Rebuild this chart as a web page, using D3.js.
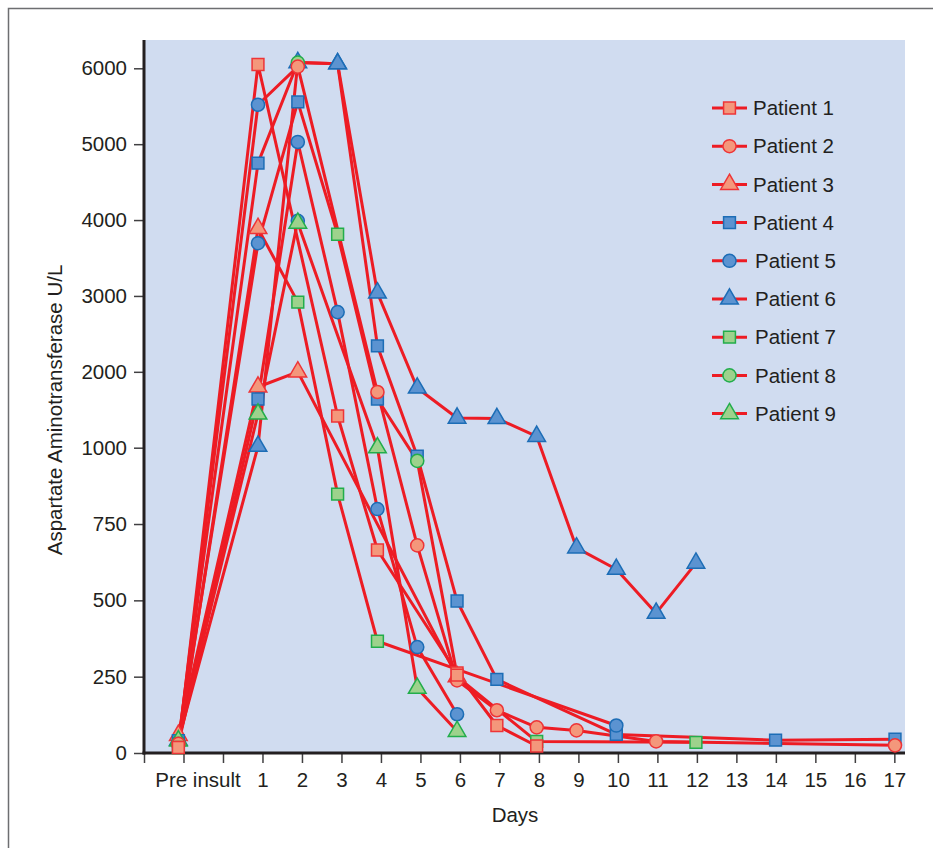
<!DOCTYPE html>
<html lang="en">
<head>
<meta charset="utf-8">
<title>Aspartate Aminotransferase after insult</title>
<script src="https://d3js.org/d3.v7.min.js"></script>
<style>
  body { margin: 0; background: #fff; }
  text { font-family: "Liberation Sans", Arial, sans-serif; fill: #231f20; }
</style>
</head>
<body>
<svg id="chart"></svg>
<script>
    // days: -1 stands for "Pre insult"
    const dayTicks = d3.range(-2, 18);
    const dayLabels = {"-2": "", "-1": "Pre insult", "0": ""};
    const astTicks = [0, 250, 500, 750, 1000, 2000, 3000, 4000, 5000, 6000];
    const patients = ["Patient 1", "Patient 2", "Patient 3", "Patient 4", "Patient 5",
                      "Patient 6", "Patient 7", "Patient 8", "Patient 9"];

    // each trace: [day, AST U/L, marker of patient n]
    const trace1 = [[-1, 18, 1], [1, 6050, 1], [3, 1418, 1], [4, 665, 1], [6, 262, 1], [7, 90, 1], [8, 23, 1]];
    const trace2 = [[-1, 30, 2], [1, 5520, 5], [2, 6022, 2], [4, 1734, 2], [5, 680, 2], [6, 238, 2],
                    [7, 140, 2], [8, 84, 2], [9, 74, 2], [11, 38, 2], [17, 25, 2]];
    const trace3 = [[-1, 58, 3], [1, 1800, 3], [2, 2000, 3], [6, 250, 3], [8, 38, 7], [12, 35, 7]];
    const trace4 = [[-1, 40, 4], [1, 4750, 4], [2, 6075, 8], [3, 6060, 6], [4, 2341, 4], [5, 972, 4],
                    [6, 498, 4], [7, 241, 4], [10, 61, 4], [14, 42, 4], [17, 45, 4]];
    const trace5 = [[-1, 35, 5], [1, 3695, 5], [2, 5557, 4], [3, 3813, 7], [4, 1642, 4], [5, 957, 8], [6, 255, 1]];
    const trace6 = [[-1, 42, 6], [1, 1019, 6], [2, 6075, 6], [3, 6060, 6], [4, 3040, 6], [5, 1787, 6],
                    [6, 1391, 6], [7, 1385, 6], [8, 1150, 6], [9, 672, 6], [10, 602, 6], [11, 458, 6], [12, 622, 6]];
    const trace7 = [[-1, 18, 7], [1, 3890, 3], [2, 2918, 7], [3, 848, 7], [4, 366, 7], [10, 90, 5]];
    const trace8 = [[-1, 30, 8], [1, 1642, 4], [2, 5029, 5], [3, 2787, 5], [4, 799, 5], [5, 347, 5], [6, 127, 5]];
    const trace9 = [[-1, 40, 9], [1, 1444, 9], [2, 3990, 5], [2, 3960, 9], [4, 1000, 9], [5, 212, 9], [6, 71, 9]];
    const traces = [trace1, trace2, trace3, trace4, trace5, trace6, trace7, trace8, trace9];

    const width = 933, height = 848;
    const plot = {left: 144, top: 40, right: 905, bottom: 753};

    const svg = d3.select("#chart").attr("width", width).attr("height", height);

    // outer frame
    svg.append("rect").attr("x", 8.5).attr("y", 8.5).attr("width", 940).attr("height", 860)
        .attr("fill", "none").attr("stroke", "#6d6e71").attr("stroke-width", 1.5);

    // axis scale, and the slightly narrower scale the points were plotted on
    let x = d3.scaleLinear().domain([-2, 17.27]).range([plot.left, plot.right]);
    let xPts = d3.scaleLinear().domain([1, 17]).range([258, 895]);
    let y = d3.scaleLinear().domain([0, 1000, 6000, 6370]).range([plot.bottom, 447.7, 68.3, plot.top]);

    svg.append("rect").attr("x", plot.left).attr("y", plot.top)
        .attr("width", plot.right - plot.left).attr("height", plot.bottom - plot.top)
        .attr("fill", "#d0dcf0");

    // axes
    let yAxis = svg.append("g").attr("transform", `translate(${plot.left},0)`)
        .call(d3.axisLeft(y).tickValues(astTicks).tickSize(10).tickSizeOuter(0).tickPadding(7).tickFormat(d3.format("d")));
    let xAxis = svg.append("g").attr("transform", `translate(0,${plot.bottom})`)
        .call(d3.axisBottom(x).tickValues(dayTicks).tickSize(10).tickSizeOuter(0).tickPadding(9)
            .tickFormat(d => dayLabels[d] !== undefined ? dayLabels[d] : d));
    [yAxis, xAxis].forEach(a => {
        a.select(".domain").remove();
        a.selectAll(".tick line").attr("stroke", "#414042").attr("stroke-width", 1.5);
        a.selectAll(".tick text").attr("font-size", "20.5px").attr("fill", "#231f20");
    });
    xAxis.selectAll(".tick text").filter(d => d === -1).attr("dx", 14);

    svg.append("line").attr("x1", plot.left).attr("x2", plot.left).attr("y1", plot.top).attr("y2", plot.bottom + 1.5)
        .attr("stroke", "#231f20").attr("stroke-width", 3);
    svg.append("line").attr("x1", plot.left - 1.5).attr("x2", plot.right).attr("y1", plot.bottom).attr("y2", plot.bottom)
        .attr("stroke", "#231f20").attr("stroke-width", 3);

    svg.append("text").attr("x", 515).attr("y", 822).attr("text-anchor", "middle")
        .attr("font-size", "20.5px").text("Days");
    svg.append("text").attr("transform", "translate(62,410) rotate(-90)").attr("text-anchor", "middle")
        .attr("font-size", "20.5px").text("Aspartate Aminotransferase U/L");

    // marker styles per patient
    const shapes = [d3.symbolSquare, d3.symbolCircle, d3.symbolTriangle];
    const sizes = [140, 135, 135];
    const fills = ["#f4977b", "#5b93d1", "#9dd28c"];
    const strokes = ["#ee3437", "#1c6db6", "#22ad4b"];
    function markerPath(p) {
        let s = (p - 1) % 3;
        return d3.symbol().type(shapes[s]).size(sizes[s])();
    }
    const markerFill = p => fills[Math.floor((p - 1) / 3)];
    const markerStroke = p => strokes[Math.floor((p - 1) / 3)];
    const drawOrder = [6, 3, 4, 5, 9, 8, 2, 7, 1];

    let line = d3.line().x(d => xPts(d[0])).y(d => y(d[1]));
    svg.append("g").selectAll("path").data(traces).join("path")
        .attr("d", line).attr("fill", "none")
        .attr("stroke", "#ed1c24").attr("stroke-width", 3).attr("stroke-linejoin", "round");

    let points = traces.flat().sort((a, b) => drawOrder.indexOf(a[2]) - drawOrder.indexOf(b[2]));
    svg.append("g").selectAll("path").data(points).join("path")
        .attr("transform", d => `translate(${xPts(d[0])},${y(d[1])})`)
        .attr("d", d => markerPath(d[2]))
        .attr("fill", d => markerFill(d[2]))
        .attr("stroke", d => markerStroke(d[2])).attr("stroke-width", 1.5);

    // legend
    let legend = svg.append("g").selectAll("g").data(patients).join("g")
        .attr("transform", (d, i) => `translate(712,${108 + i * 38.2})`);
    legend.append("line").attr("x1", 0).attr("x2", 35).attr("stroke", "#ed1c24").attr("stroke-width", 3);
    legend.append("path").attr("transform", "translate(17.5,0)")
        .attr("d", (d, i) => markerPath(i + 1))
        .attr("fill", (d, i) => markerFill(i + 1))
        .attr("stroke", (d, i) => markerStroke(i + 1)).attr("stroke-width", 1.5);
    legend.append("text").attr("x", (d, i) => i < 4 ? 41 : 43).attr("dy", "0.35em")
        .attr("font-size", "20.5px").text(d => d);
</script>
</body>
</html>
